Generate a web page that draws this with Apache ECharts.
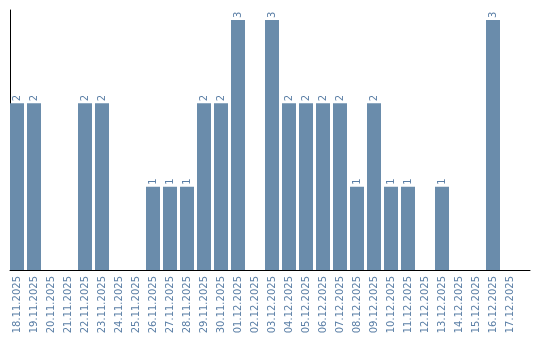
<!DOCTYPE html>
<html>
<head>
<meta charset="utf-8">
<script src="https://cdn.jsdelivr.net/npm/echarts@6/dist/echarts.min.js"></script>
<style>
  html, body { margin: 0; padding: 0; background: #fff; }
  #main { width: 540px; height: 340px; }
</style>
</head>
<body>
<div id="main"></div>
<script>
var dates = ['18.11.2025', '19.11.2025', '20.11.2025', '21.11.2025', '22.11.2025', '23.11.2025',
  '24.11.2025', '25.11.2025', '26.11.2025', '27.11.2025', '28.11.2025', '29.11.2025',
  '30.11.2025', '01.12.2025', '02.12.2025', '03.12.2025', '04.12.2025', '05.12.2025',
  '06.12.2025', '07.12.2025', '08.12.2025', '09.12.2025', '10.12.2025', '11.12.2025',
  '12.12.2025', '13.12.2025', '14.12.2025', '15.12.2025', '16.12.2025', '17.12.2025']
var counts = [2, 2, 0, 0, 2, 2, 0, 0, 1, 1, 1, 2, 2, 3, 0, 3, 2, 2, 2, 2, 1, 2, 1, 1, 0, 1, 0, 0, 3, 0]

var labelColor = '#5b7fa6'

var myChart = echarts.init(document.getElementById('main'))
myChart.setOption({
  animation: false,
  grid: [
    // bars
    { left: 8.5, right: 21.5, top: 10, bottom: 70 },
    // frame axes (longer x line, y line at x=10)
    { left: 10, right: 10, top: 10, bottom: 70 }
  ],
  xAxis: [{
    gridIndex: 0,
    type: 'category',
    data: dates,
    axisLine: { show: false },
    axisTick: { show: false },
    axisLabel: {
      rotate: 90,
      interval: 0,
      color: labelColor,
      fontFamily: 'DejaVu Sans',
      fontSize: 10,
      margin: 6
    }
  }, {
    gridIndex: 1,
    type: 'value',
    min: 0,
    max: 1,
    axisLine: { show: true, lineStyle: { color: '#000', width: 1 } },
    axisTick: { show: false },
    axisLabel: { show: false },
    splitLine: { show: false }
  }],
  yAxis: [{
    gridIndex: 0,
    type: 'value',
    min: 0,
    max: 3.12,
    axisLine: { show: false },
    axisTick: { show: false },
    axisLabel: { show: false },
    splitLine: { show: false }
  }, {
    gridIndex: 1,
    type: 'value',
    min: 0,
    max: 1,
    axisLine: { show: true, lineStyle: { color: '#000', width: 1 } },
    axisTick: { show: false },
    axisLabel: { show: false },
    splitLine: { show: false }
  }],
  series: [{
    type: 'bar',
    xAxisIndex: 0,
    yAxisIndex: 0,
    data: counts,
    barWidth: 14,
    itemStyle: { color: '#6a8cab' },
    label: {
      show: true,
      position: 'top',
      rotate: 90,
      align: 'left',
      verticalAlign: 'middle',
      distance: 2,
      color: labelColor,
      fontFamily: 'DejaVu Sans',
      fontSize: 10,
      formatter: function (p) { return p.value > 0 ? p.value : '' }
    }
  }]
})
</script>
</body>
</html>
